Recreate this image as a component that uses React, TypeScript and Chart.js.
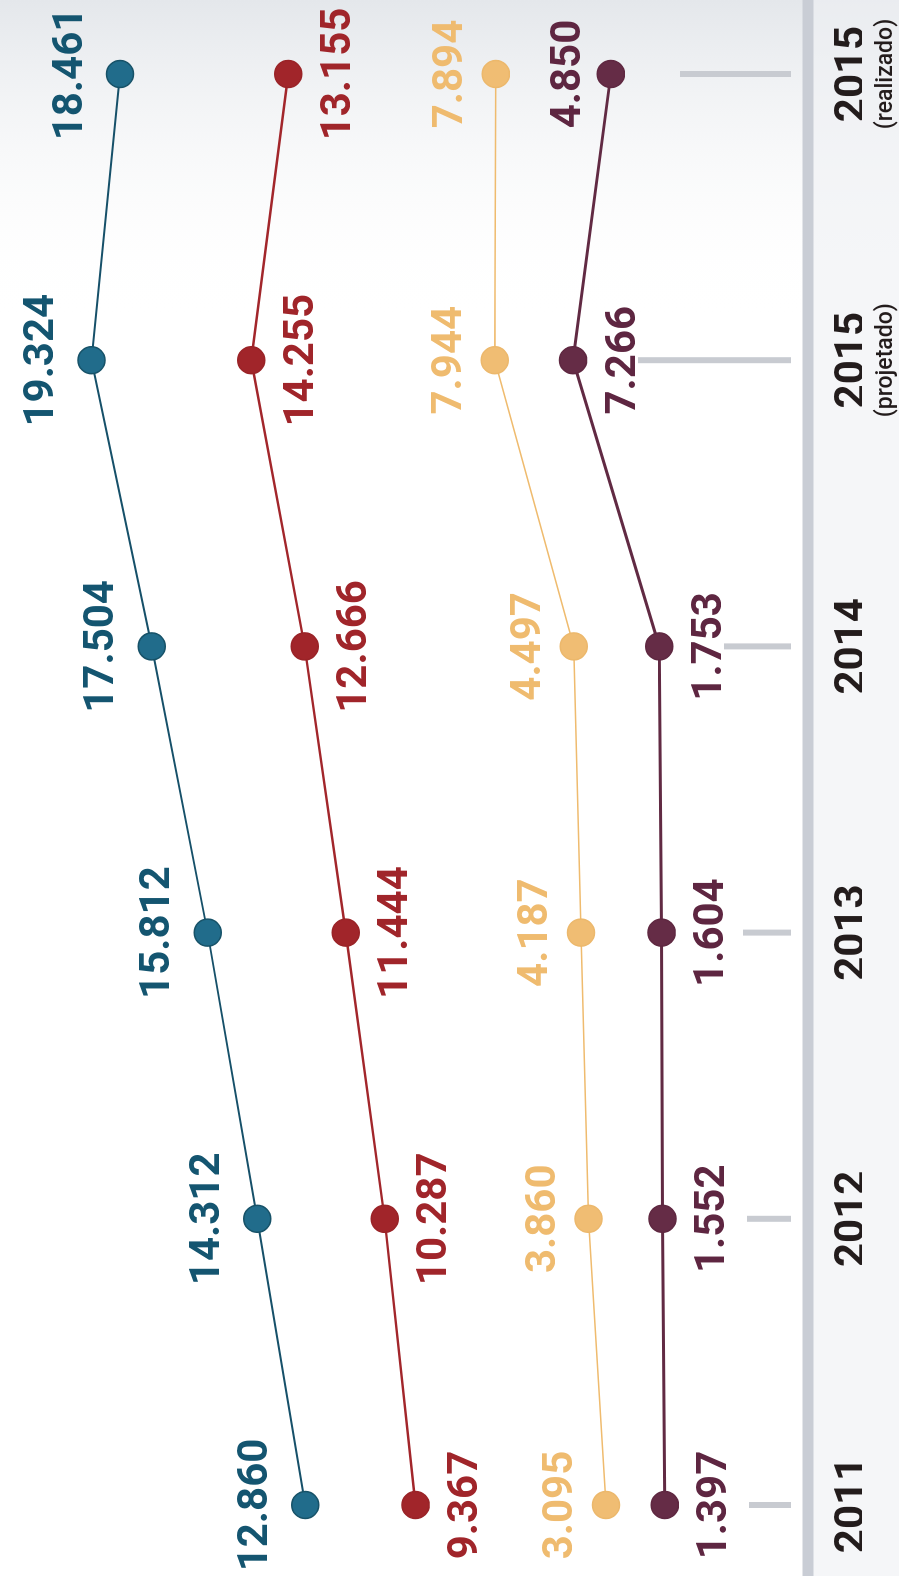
import React, { useEffect, useRef } from 'react';
import { Chart, registerables } from 'chart.js';

Chart.register(...registerables);

// ---------- DATA ----------
const categories = ['2011', '2012', '2013', '2014', '2015 (projetado)', '2015 (realizado)'];
const yearLabels = ['2011', '2012', '2013', '2014', '2015', '2015'];
const subLabels = ['', '', '', '', '(projetado)', '(realizado)'];

const blueValues = [12.86, 14.312, 15.812, 17.504, 19.324, 18.461];
const redValues = [9.367, 10.287, 11.444, 12.666, 14.255, 13.155];
const yellowValues = [3.095, 3.86, 4.187, 4.497, 7.944, 7.894];
const purpleValues = [1.397, 1.552, 1.604, 1.753, 7.266, 4.85];

// ---------- STYLE ----------
const W = 1576; // unrotated width (becomes page height)
const H = 899; // unrotated height (becomes page width)
const LABEL_FONT = 'bold 42px Roboto';
const TICK_MARK_LENGTHS = [42, 44, 48, 67, 153, 111];

const fmt = (v: number) => v.toFixed(3);

const backgroundPlugin = {
  id: 'bg',
  beforeDraw(chart: any) {
    const { ctx, width, height, chartArea } = chart;
    ctx.save();
    ctx.fillStyle = '#ffffff';
    ctx.fillRect(0, 0, width, height);
    const g = ctx.createLinearGradient(width, 0, width - 320, 0);
    g.addColorStop(0, 'rgba(228,231,235,1)');
    g.addColorStop(1, 'rgba(255,255,255,0)');
    ctx.fillStyle = g;
    ctx.fillRect(width - 320, 0, 320, height);
    ctx.fillStyle = 'rgba(238,240,243,0.6)';
    ctx.fillRect(0, chartArea.bottom + 5, width, height - chartArea.bottom - 5);
    ctx.restore();
  },
};

const axisPlugin = {
  id: 'axisDecor',
  beforeDatasetsDraw(chart: any) {
    const { ctx, width, chartArea } = chart;
    const xs = chart.scales.x;
    ctx.save();
    ctx.fillStyle = '#c9cdd5';
    ctx.fillRect(0, chartArea.bottom - 5.5, width, 11);
    ctx.fillStyle = '#c8cbd1';
    xs.ticks.forEach((_t: any, i: number) => {
      const u = xs.getPixelForTick(i);
      const len = TICK_MARK_LENGTHS[i];
      ctx.fillRect(u - 3, chartArea.bottom - 17 - len, 6, len);
    });
    ctx.restore();
  },
};

const valueLabelPlugin = {
  id: 'valueLabels',
  afterDatasetsDraw(chart: any) {
    const { ctx } = chart;
    chart.data.datasets.forEach((ds: any, i: number) => {
      const meta = chart.getDatasetMeta(i);
      meta.data.forEach((pt: any, j: number) => {
        const pos = ds.labelPos[j];
        const off = pos === 'above' ? -ds.offAbove : ds.offBelow;
        ctx.save();
        ctx.font = LABEL_FONT;
        ctx.fillStyle = ds.labelColor;
        ctx.textAlign = 'center';
        ctx.textBaseline = 'middle';
        ctx.fillText(fmt(ds.data[j]), pt.x, pt.y + off);
        ctx.restore();
      });
    });
  },
};

export default function App() {
  const ref = useRef<HTMLCanvasElement | null>(null);

  useEffect(() => {
    if (!ref.current) return;
    const mk = (
      label: string,
      data: number[],
      axis: string,
      line: string,
      fill: string,
      border: string,
      lw: number,
      labelColor: string,
      labelPos: string[],
      offAbove: number,
      offBelow: number
    ) => ({
      label,
      data,
      yAxisID: axis,
      borderColor: line,
      borderWidth: lw,
      pointBackgroundColor: fill,
      pointBorderColor: border,
      pointBorderWidth: 1.5,
      pointRadius: 13.5,
      pointHoverRadius: 13.5,
      tension: 0,
      fill: false,
      clip: false,
      labelColor,
      labelPos,
      offAbove,
      offBelow,
    });

    const chart = new Chart(ref.current, {
      type: 'line',
      data: {
        labels: categories,
        datasets: [
          mk('blue', blueValues, 'yBlue', '#165069', '#216c8b', '#175268', 2, '#145570',
            ['above', 'above', 'above', 'above', 'above', 'above'], 49, 50),
          mk('red', redValues, 'yRed', '#a2262b', '#a1252a', '#9a2327', 2.5, '#a0252a',
            ['below', 'below', 'below', 'below', 'below', 'below'], 49, 51),
          mk('yellow', yellowValues, 'yYellow', '#efbb6e', '#f0bd73', '#ecb86c', 1.5, '#efbb6f',
            ['above', 'above', 'above', 'above', 'above', 'above'], 44, 50),
          mk('purple', purpleValues, 'yPurple', '#612a43', '#652c46', '#5f2841', 3, '#5e2641',
            ['below', 'below', 'below', 'below', 'below', 'above'], 41, 51),
        ] as any,
      },
      options: {
        responsive: false,
        devicePixelRatio: 1,
        animation: false,
        events: [],
        layout: { padding: { left: 71, right: 74, top: 0, bottom: 0 } },
        plugins: { legend: { display: false }, tooltip: { enabled: false } },
        scales: {
          x: {
            type: 'category',
            position: 'bottom',
            offset: false,
            grid: { display: false, drawTicks: false },
            border: { display: false },
            ticks: {
              autoSkip: false,
              maxRotation: 0,
              padding: 20,
              color: '#231c1c',
              font: { family: 'Roboto', size: 42, weight: 'bold' },
              callback: (_v: any, i: number) => yearLabels[i],
            },
            afterFit: (s: any) => { s.height = 54; },
          },
          x2: {
            type: 'category',
            position: 'bottom',
            offset: false,
            grid: { display: false, drawTicks: false },
            border: { display: false },
            ticks: {
              autoSkip: false,
              maxRotation: 0,
              padding: 10,
              color: '#231c1c',
              font: { family: 'Roboto', size: 23, weight: '500' },
              callback: (_v: any, i: number) => subLabels[i],
            },
            afterFit: (s: any) => { s.height = 37; },
          },
          yBlue: { type: 'linear', display: false, min: -2.34, max: 21.636 },
          yRed: { type: 'linear', display: false, min: -2.304, max: 21.28 },
          yYellow: { type: 'linear', display: false, min: -5.715, max: 28.859 },
          yPurple: { type: 'linear', display: false, min: -7.759, max: 42.963 },
        },
      } as any,
      plugins: [backgroundPlugin, axisPlugin, valueLabelPlugin],
    });
    return () => chart.destroy();
  }, []);

  return (
    <div style={{ position: 'absolute', left: 0, top: 0, width: H, height: W, overflow: 'hidden', background: '#fff' }}>
      <div
        style={{
          width: W,
          height: H,
          transformOrigin: '0 0',
          transform: `translate(0px, ${W}px) rotate(-90deg)`,
        }}
      >
        <canvas ref={ref} width={W} height={H} style={{ display: 'block', width: W, height: H }} />
      </div>
    </div>
  );
}
